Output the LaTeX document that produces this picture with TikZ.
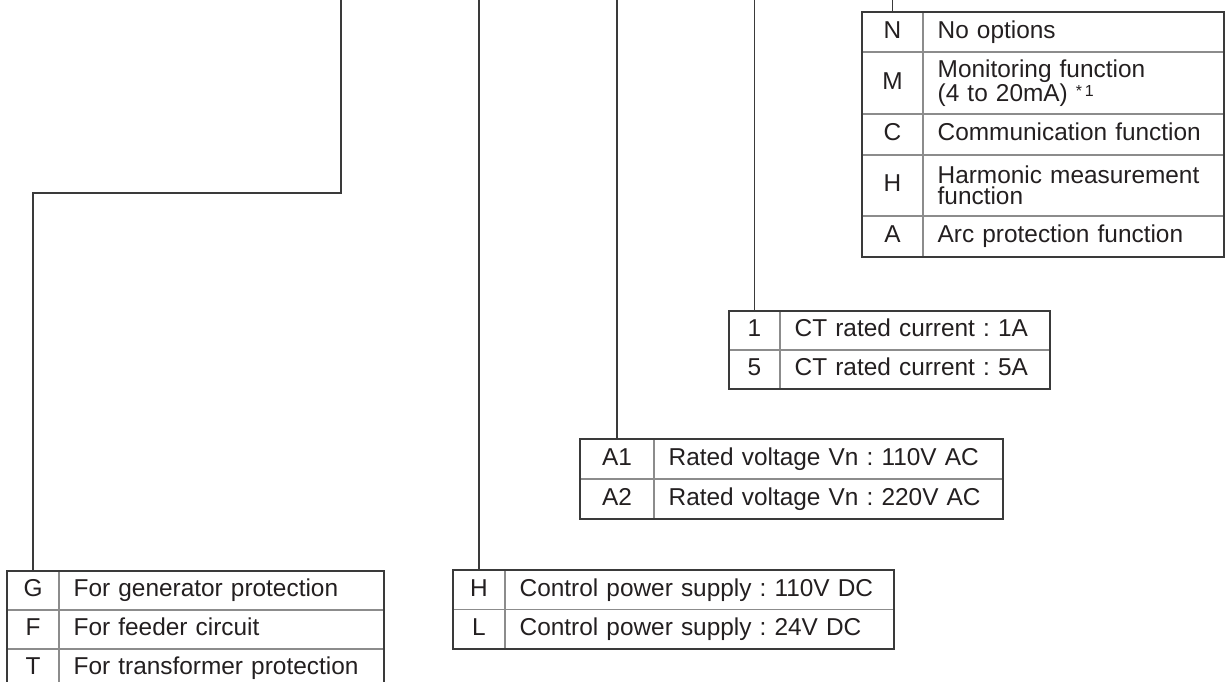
\documentclass[tikz,border=0pt]{standalone}
\usepackage{fontspec}
\setmainfont{Liberation Sans}
\usetikzlibrary{positioning}
\frenchspacing
\definecolor{ink}{HTML}{231F20}
\definecolor{rulegray}{HTML}{8C8C8C}
\definecolor{framegray}{HTML}{3A3A3A}
\tikzset{
  cell/.style={draw=rulegray,line width=0.9pt,outer sep=0pt,inner sep=0pt,text=ink,
    text height=13pt,text depth=3.5pt,font=\fontsize{18.3}{16}\selectfont},
  key/.style={cell,minimum width=#1,align=center},
  desc/.style={cell,text width=#1,inner xsep=11pt,align=left},
  twoline/.style={text height=,text depth=},
  h/.style={minimum height=#1},
  frame/.style={draw=framegray,line width=1.4pt},
  wire/.style={draw=framegray,line width=1.4pt}
}
\begin{document}
\begin{tikzpicture}[x=0.75pt,y=-0.75pt]
\useasboundingbox (0,0) rectangle (1232,682);
% options
\node[key=45.75pt,h=30pt,anchor=north west] (optN) at (862,12) {N};
\node[desc=203.75pt,h=30pt,right=0pt of optN] (optNd) {No options};
\node[key=45.75pt,h=46.5pt,below=0pt of optN] (optM) {M};
\node[desc=203.75pt,h=46.5pt,twoline,right=0pt of optM] (optMd) {Monitoring function\\(4 to 20mA) \raisebox{4pt}{\fontsize{12}{12}\selectfont *\kern2pt 1}};
\node[key=45.75pt,h=30.75pt,below=0pt of optM] (optC) {C};
\node[desc=203.75pt,h=30.75pt,right=0pt of optC] (optCd) {Communication function};
\node[key=45.75pt,h=45.75pt,below=0pt of optC] (optH) {H};
\node[desc=203.75pt,h=45.75pt,twoline,right=0pt of optH] (optHd) {Harmonic measurement\\function};
\node[key=45.75pt,h=30.75pt,below=0pt of optH] (optA) {A};
\node[desc=203.75pt,h=30.75pt,right=0pt of optA] (optAd) {Arc protection function};
\draw[frame] (optN.north west) rectangle (optAd.south east);
% CT rating
\node[key=38.25pt,h=29.25pt,anchor=north west] (ct1) at (729,311) {1};
\node[desc=180.5pt,h=29.25pt,right=0pt of ct1] (ct1d) {CT rated current : 1A};
\node[key=38.25pt,h=29.25pt,below=0pt of ct1] (ct5) {5};
\node[desc=180.5pt,h=29.25pt,right=0pt of ct5] (ct5d) {CT rated current : 5A};
\draw[frame] (ct1.north west) rectangle (ct5d.south east);
% rated voltage
\node[key=55.5pt,h=30pt,anchor=north west] (vnA1) at (580,439) {A1};
\node[desc=239.75pt,h=30pt,right=0pt of vnA1] (vnA1d) {Rated voltage Vn : 110V AC};
\node[key=55.5pt,h=30pt,below=0pt of vnA1] (vnA2) {A2};
\node[desc=239.75pt,h=30pt,right=0pt of vnA2] (vnA2d) {Rated voltage Vn : 220V AC};
\draw[frame] (vnA1.north west) rectangle (vnA2d.south east);
% control power
\node[key=39pt,h=29.6pt,anchor=north west] (pwH) at (453,570) {H};
\node[desc=269.75pt,h=29.6pt,right=0pt of pwH] (pwHd) {Control power supply : 110V DC};
\node[key=39pt,h=29.6pt,below=0pt of pwH] (pwL) {L};
\node[desc=269.75pt,h=29.6pt,right=0pt of pwL] (pwLd) {Control power supply : 24V DC};
\draw[frame] (pwH.north west) rectangle (pwLd.south east);
% application
\node[key=39pt,h=29.25pt,anchor=north west] (useG) at (7,571) {G};
\node[desc=221.75pt,h=29.25pt,right=0pt of useG] (useGd) {For generator protection};
\node[key=39pt,h=29.25pt,below=0pt of useG] (useF) {F};
\node[desc=221.75pt,h=29.25pt,right=0pt of useF] (useFd) {For feeder circuit};
\node[key=39pt,h=29.25pt,below=0pt of useF] (useT) {T};
\node[desc=221.75pt,h=29.25pt,right=0pt of useT] (useTd) {For transformer protection};
\draw[frame] (useG.north west) rectangle (useTd.south east);
% leader lines
\coordinate (useTop) at (341,0);
\coordinate (useBend) at (341,193);
\coordinate (pwTop) at (pwH.north |- 0,0);
\coordinate (vnTop) at (vnA1.north |- 0,0);
\coordinate (ctTop) at (ct1.north |- 0,0);
\coordinate (optTop) at (optN.north |- 0,0);
\draw[wire] (useTop) -- (useBend) -| (useG.north);
\draw[wire] (pwTop) -- (pwH.north);
\draw[wire] (vnTop) -- (vnA1.north);
\draw[wire] (ctTop) -- (ct1.north);
\draw[wire] (optTop) -- (optN.north);
\end{tikzpicture}
\end{document}
